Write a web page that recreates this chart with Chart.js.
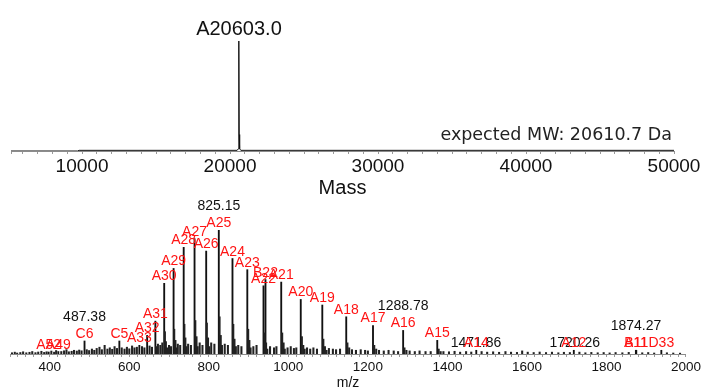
<!DOCTYPE html>
<html>
<head>
<meta charset="utf-8">
<script src="https://cdn.jsdelivr.net/npm/chart.js@4.4.1/dist/chart.umd.min.js"></script>
<style>
  html, body { margin: 0; padding: 0; background: #fff; }
  #wrap { position: relative; width: 703px; height: 387px; overflow: hidden; }
  canvas { position: absolute; left: 0; }
  #deconv { top: 0; }
  #spectrum { top: 190px; }
</style>
</head>
<body>
<div id="wrap">
  <canvas id="deconv" width="703" height="200"></canvas>
  <canvas id="spectrum" width="703" height="197"></canvas>
</div>
<script>
// ---- deconvoluted mass spectrum ----
const massAxis = [5200, 9700, 9800, 20480, 20560, 20585, 20603, 20622, 20650, 20730, 50000];
const massInt  = [0, 0, 0.6, 0.6, 2, 15, 100, 15, 2, 0.6, 0.6];
const massTickLabels = [10000, 20000, 30000, 40000, 50000];
const massPeakLabel = 'A20603.0';
const massPeakValue = 20603.0;
const expectedText = 'expected MW: 20610.7 Da';

// ---- raw m/z spectrum: assigned ions ----
const ionNames = ['A52', 'A49', 'C6', 'C5', 'A33', 'A32', 'A31', 'A30', 'A29', 'A28', 'A27', 'A26', 'A25',
  'A24', 'A23', 'A22', 'B22', 'A21', 'A20', 'A19', 'A18', 'A17', 'A16', 'A15', 'A14', 'A12', 'A11', 'B11', 'D33'];
const ionMz = [397.2, 421.5, 487.4, 575.0, 625.3, 644.9, 665.6, 687.8, 711.4, 736.8, 764.1, 793.4, 825.1,
  859.5, 896.8, 937.5, 942.5, 982.1, 1031.2, 1085.4, 1145.6, 1212.9, 1288.7, 1374.5, 1472.6, 1717.9, 1874.0, 1875.0, 1938.0];
const ionInt = [1.6, 2, 10.5, 10.5, 7, 15, 26.5, 57, 69, 86, 93, 83, 100,
  77, 68, 55, 60, 58, 44, 39.5, 30, 23, 19, 11, 3, 3, 3, 3, 3];

// picked peak m/z values
const mzLabels = ['487.38', '825.15', '1288.78', '1471.86', '1720.26', '1874.27'];
const mzTickLabels = [400, 600, 800, 1000, 1200, 1400, 1600, 1800, 2000];

// adduct shoulders and baseline noise
const minorMz = [
  667.5, 670, 689.5, 692, 695, 713, 716, 719, 738.5, 741, 744, 766, 769, 772, 795, 798, 801,
  827, 830, 833, 861.5, 864.5, 868, 899, 902, 905, 940, 944, 947, 984.5, 988, 991,
  1034, 1037.5, 1041, 1088, 1092, 1096, 1148.5, 1153, 1216, 1221, 1292, 1297, 1378, 1383,
  305, 312, 318, 326, 333, 341, 349, 356, 364, 371, 379, 386, 392, 404, 411, 416, 429, 436,
  442, 448, 455, 461, 468, 474, 480, 493, 499, 506, 512, 518, 525, 531, 538, 545, 551, 557,
  563, 569, 581, 588, 594, 600, 607, 613, 619, 632, 638, 651, 657, 672, 678, 683,
  700, 705, 722, 728, 748, 755, 777, 784, 806, 814, 840, 848, 874, 882, 912, 920, 954, 964,
  970, 998, 1006, 1014, 1020, 1047, 1055, 1063, 1072, 1102, 1112, 1120, 1130, 1160, 1170,
  1182, 1193, 1200, 1228, 1240, 1252, 1265, 1276, 1305, 1318, 1330, 1345, 1358, 1390, 1404,
  1418, 1432, 1447, 1460, 1486, 1500, 1515, 1530, 1546, 1560, 1575, 1588, 1602, 1617, 1632,
  1648, 1663, 1679, 1693, 1708, 1732, 1747, 1762, 1778, 1793, 1808, 1823, 1840, 1856, 1890,
  1905, 1920, 1952, 1968, 1985];
const minorInt = [
  6, 4, 18, 10, 5, 20, 11, 5, 24, 13, 6, 27, 14, 6, 25, 13, 6,
  30, 15, 7, 24, 12, 6, 20, 11, 5, 17, 9, 4, 17, 9, 4,
  14, 7, 4, 12, 6, 3, 9, 5, 7, 4, 5, 3, 4, 2,
  1, 1.5, 0.8, 1.2, 1.8, 1, 1.4, 2, 1.1, 1.6, 2.2, 1.3, 1.8, 2.4, 1.5, 2.8, 2, 2.6,
  3.5, 1.8, 2.2, 3, 2.4, 3.2, 2.6, 3.5, 2.8, 4, 3, 4.5, 5.5, 3.5, 7, 4, 5, 3.8,
  6, 4.5, 5, 4, 5.5, 4.2, 6.5, 5, 5.5, 6, 5, 6.5, 5.5, 8, 7, 9,
  7, 6, 8, 7, 8, 7, 9, 7, 9, 8, 8, 7, 7, 6, 6, 7, 6, 5,
  6, 5, 6, 4.5, 5, 5, 4, 5, 4, 4.5, 4, 3.5, 4, 3.5, 3,
  3.5, 3, 2.5, 3, 2.5, 3, 2.5, 2, 2.5, 2, 2.5, 2, 2, 2, 1.8,
  2.2, 1.5, 2, 1.6, 2, 1.5, 1.8, 1.4, 2, 1.5, 1.3, 2.5, 1.5, 1.2, 1.6,
  1.2, 1.5, 1, 1.4, 1.2, 1.5, 1, 1.3, 1, 1.2, 0.9, 1.2, 1, 1.3, 1,
  1.2, 0.8, 1, 0.8, 0.7];

const FONT = '"Liberation Sans", Arial, sans-serif';

// evenly spaced minor tick marks, labels only on the listed values
function setTicks(scale, step, labels) {
  const ticks = [{value: scale.min}];
  for (let v = Math.ceil(scale.min / step) * step; v <= scale.max; v += step) {
    if (v > scale.min) ticks.push({value: v});
  }
  scale.ticks = ticks;
  scale.options.ticks.callback = v => (labels.includes(v) ? v : '');
}

// labels for the deconvoluted plot
const massLabels = {
  id: 'massLabels',
  afterDatasetsDraw(chart) {
    const {ctx, chartArea, scales: {x, y}} = chart;
    ctx.save();
    ctx.fillStyle = '#111';
    ctx.textAlign = 'center';
    ctx.textBaseline = 'alphabetic';
    ctx.font = '20px ' + FONT;
    ctx.fillText(massPeakLabel, x.getPixelForValue(massPeakValue), y.getPixelForValue(100) - 6);
    ctx.textAlign = 'right';
    ctx.fillStyle = '#222';
    ctx.font = '17.5px "DejaVu Sans", Verdana, sans-serif';
    ctx.fillText(expectedText, chartArea.right - 2, chartArea.bottom - 11);
    ctx.restore();
  }
};

// ion assignments (red) and picked m/z values (black)
const ionLabels = {
  id: 'ionLabels',
  afterDatasetsDraw(chart) {
    const {ctx, scales: {x, y}} = chart;
    ctx.save();
    ctx.textAlign = 'center';
    ctx.textBaseline = 'alphabetic';
    ctx.font = '14px ' + FONT;
    mzLabels.forEach(txt => {
      const mz = parseFloat(txt);
      let k = -1, d = 3;
      ionMz.forEach((m, i) => {
        if (Math.abs(m - mz) <= d) { d = Math.abs(m - mz); k = i; }
      });
      let base = y.getPixelForValue(k >= 0 ? ionInt[k] : 0) - 3;
      if (d < 0.5) base -= 17;
      ctx.fillStyle = '#111';
      ctx.fillText(txt, x.getPixelForValue(mz), base);
    });
    ctx.fillStyle = '#ff1414';
    ionNames.forEach((name, i) => {
      ctx.fillText(name, x.getPixelForValue(ionMz[i]), y.getPixelForValue(ionInt[i]) - 3);
    });
    ctx.restore();
  }
};

let chartMass = new Chart(document.getElementById('deconv').getContext('2d'), {
  type: 'line',
  data: {
    datasets: [{
      data: massAxis.map((m, i) => ({x: m, y: massInt[i]})),
      borderColor: '#111',
      borderWidth: 1,
      pointRadius: 0,
      tension: 0,
      fill: false
    }]
  },
  options: {
    responsive: false,
    animation: false,
    devicePixelRatio: 1,
    layout: { padding: { left: 11, right: 29, top: 41, bottom: 0 } },
    plugins: { legend: { display: false }, tooltip: { enabled: false } },
    scales: {
      x: {
        type: 'linear',
        min: 5200,
        max: 50000,
        afterBuildTicks: s => setTicks(s, 1000, massTickLabels),
        afterFit: s => { s.height = 49; },
        ticks: {
          autoSkip: false,
          maxRotation: 0,
          padding: 1,
          color: '#111',
          font: { family: FONT, size: 19 }
        },
        grid: { drawOnChartArea: false, drawTicks: true, tickLength: 3, tickColor: '#999' },
        border: { display: true, color: '#8c8c8c', width: 1 },
        title: {
          display: true,
          text: 'Mass',
          color: '#111',
          font: { family: FONT, size: 20 },
          padding: { top: 0, bottom: 0 }
        }
      },
      y: { display: false, min: 0, max: 100 }
    }
  },
  plugins: [massLabels]
});

let chartMz = new Chart(document.getElementById('spectrum').getContext('2d'), {
  type: 'bar',
  data: {
    datasets: [{
      data: minorMz.map((m, i) => ({x: m, y: minorInt[i]})),
      backgroundColor: '#222',
      barThickness: 1.4,
      grouped: false
    }, {
      data: ionMz.map((m, i) => ({x: m, y: ionInt[i]})),
      backgroundColor: '#111',
      barThickness: 1.2,
      grouped: false
    }]
  },
  options: {
    responsive: false,
    animation: false,
    devicePixelRatio: 1,
    layout: { padding: { left: 10, right: 17, top: 40, bottom: 0 } },
    plugins: { legend: { display: false }, tooltip: { enabled: false } },
    scales: {
      x: {
        type: 'linear',
        min: 300,
        max: 2000,
        offset: false,
        afterBuildTicks: s => setTicks(s, 20, mzTickLabels),
        afterFit: s => { s.height = 33; },
        ticks: {
          autoSkip: false,
          maxRotation: 0,
          padding: 2,
          color: '#111',
          font: { family: FONT, size: 13.5 }
        },
        grid: { offset: false, drawOnChartArea: false, drawTicks: true, tickLength: 3, tickColor: '#999' },
        border: { display: true, color: '#8c8c8c', width: 1 },
        title: {
          display: true,
          text: 'm/z',
          color: '#111',
          font: { family: FONT, size: 14 },
          padding: { top: 0, bottom: -5 }
        }
      },
      y: { display: false, min: 0, max: 100 }
    }
  },
  plugins: [ionLabels]
});
</script>
</body>
</html>
